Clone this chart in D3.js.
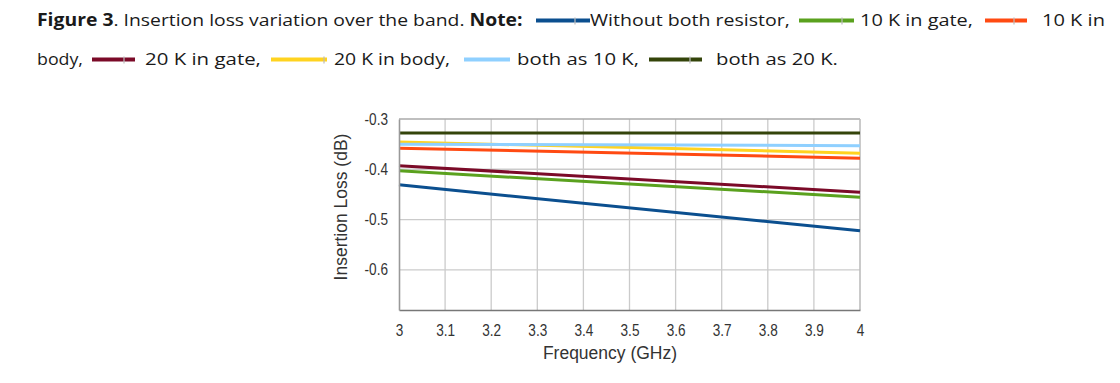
<!DOCTYPE html>
<html><head><meta charset="utf-8">
<script src="https://cdn.jsdelivr.net/npm/d3@7"></script>
<style>body{margin:0;background:#fff}svg{display:block}</style>
</head><body>
<svg id="c" width="1120" height="383"></svg>
<script>
const freq = [3, 4];
const seriesNames = ["Without both resistor", "10 K in gate", "10 K in body", "20 K in gate", "20 K in body", "both as 10 K", "both as 20 K"];
const seriesColors = ["#0b4f8f", "#5aa11e", "#ff4a12", "#7b0a28", "#ffd320", "#8fd0ff", "#34440a"];
const withoutBoth = [-0.431, -0.5225];
const tenGate = [-0.403, -0.4556];
const tenBody = [-0.358, -0.378];
const twentyGate = [-0.393, -0.4457];
const twentyBody = [-0.3457, -0.368];
const both10 = [-0.350, -0.353];
const both20 = [-0.328, -0.328];
const xTicks = [3, 3.1, 3.2, 3.3, 3.4, 3.5, 3.6, 3.7, 3.8, 3.9, 4];
const yTicks = [-0.3, -0.4, -0.5, -0.6];
const yDomain = [-0.68, -0.3];

const allSeries = [withoutBoth, tenGate, tenBody, twentyGate, twentyBody, both10, both20];
const drawOrder = [0, 1, 3, 2, 4, 5, 6];

const svg = d3.select("#c");
const L = 399, R = 860, T = 119, B = 310;
const x = d3.scaleLinear().domain([3, 4]).range([L, R]);
const y = d3.scaleLinear().domain(yDomain).range([B, T]);

// gridlines
svg.append("g").selectAll("line").data(xTicks.slice(1, -1)).join("line")
  .attr("x1", d => x(d)).attr("x2", d => x(d)).attr("y1", T).attr("y2", B)
  .attr("stroke", "#cbcbcb").attr("stroke-width", 1.3);
svg.append("g").selectAll("line").data(yTicks.slice(1)).join("line")
  .attr("x1", L).attr("x2", R).attr("y1", d => y(d)).attr("y2", d => y(d))
  .attr("stroke", "#cbcbcb").attr("stroke-width", 1.3);
// frame
svg.append("line").attr("x1", L).attr("x2", R).attr("y1", T).attr("y2", T).attr("stroke", "#aaaaaa").attr("stroke-width", 1.6);
svg.append("line").attr("x1", R).attr("x2", R).attr("y1", T).attr("y2", B).attr("stroke", "#bdbdbd").attr("stroke-width", 1.6);

// lines
const line = d3.line().x((d, i) => x(freq[i])).y(d => y(d));
svg.append("g").selectAll("path").data(drawOrder).join("path")
  .attr("d", i => line(allSeries[i]))
  .attr("fill", "none").attr("stroke", i => seriesColors[i]).attr("stroke-width", 3);

// axes
const AF = "Liberation Sans, Arial, sans-serif";
const xAxis = svg.append("g").attr("transform", `translate(0,${B})`)
  .call(d3.axisBottom(x).tickValues(xTicks).tickSize(0).tickPadding(15).tickFormat(d => String(d)));
xAxis.select(".domain").attr("stroke", "#777").attr("stroke-width", 1.6);
const yAxis = svg.append("g").attr("transform", `translate(${L},0)`)
  .call(d3.axisLeft(y).tickValues(yTicks).tickSize(0).tickPadding(11).tickFormat(d => d.toFixed(1)));
yAxis.select(".domain").attr("stroke", "#999").attr("stroke-width", 1.6);
xAxis.selectAll(".tick text")
  .style("font-family", AF).style("font-size", "16px").attr("fill", "#333")
  .attr("transform", "translate(0,15) scale(0.85,1)").attr("y", 0);
yAxis.selectAll(".tick text")
  .style("font-family", AF).style("font-size", "16px").attr("fill", "#333")
  .attr("transform", "translate(-11,0) scale(0.85,1)").attr("x", 0);

svg.append("text").attr("x", 610).attr("y", 359).attr("text-anchor", "middle")
  .style("font-family", AF).style("font-size", "17.5px").attr("fill", "#333")
  .text("Frequency (GHz)");
svg.append("text").attr("transform", "translate(347,207) rotate(-90)").attr("text-anchor", "middle")
  .style("font-family", AF).style("font-size", "17.5px").attr("fill", "#333")
  .text("Insertion Loss (dB)");

// caption / legend
const F = "Open Sans, sans-serif", FS = 17;
function fitText(x1, x2, yp, pieces) {
  const t = svg.append("text").attr("x", 0).attr("y", 0).style("font-family", F).style("font-size", FS + "px").attr("fill", "#1a1a1a");
  pieces.forEach(p => t.append("tspan").attr("font-weight", p[1] ? "bold" : "normal").text(p[0]));
  const w = t.node().getComputedTextLength();
  t.attr("transform", `translate(${x1},${yp}) scale(${(x2 - x1) / w},1)`);
}
function swatch(x1, x2, yp, i, tk) {
  svg.append("line").attr("x1", x1).attr("x2", x2).attr("y1", yp).attr("y2", yp)
    .attr("stroke", seriesColors[i]).attr("stroke-width", 4);
  if (tk) svg.append("line").attr("x1", x2 - tk).attr("x2", x2 - tk).attr("y1", yp - 3).attr("y2", yp + 4)
    .attr("stroke", "#bbb").attr("stroke-width", 1.2);
}
const Y1 = 26, Y2 = 65, S1 = 20.5, S2 = 59.5;
fitText(37, 523, Y1, [["Figure 3", true], [". Insertion loss variation over the band. ", false], ["Note:", true]]);
swatch(536, 590, S1, 0, 15); fitText(590, 790, Y1, [["Without both resistor,", false]]);
swatch(799, 854, S1, 1, 12); fitText(860, 973, Y1, [["10 K in gate,", false]]);
swatch(985, 1027, S1, 2, 13); fitText(1042, 1105, Y1, [["10 K in", false]]);
fitText(37, 83, Y2, [["body,", false]]);
swatch(92, 135, S2, 3, 11); fitText(145, 261, Y2, [["20 K in gate,", false]]);
swatch(271, 327, S2, 4, 3); fitText(334, 450, Y2, [["20 K in body,", false]]);
swatch(464, 510, S2, 5, 0); fitText(517, 639, Y2, [["both as 10 K,", false]]);
swatch(649, 702, S2, 6, 12); fitText(716, 838, Y2, [["both as 20 K.", false]]);
</script>
</body></html>
